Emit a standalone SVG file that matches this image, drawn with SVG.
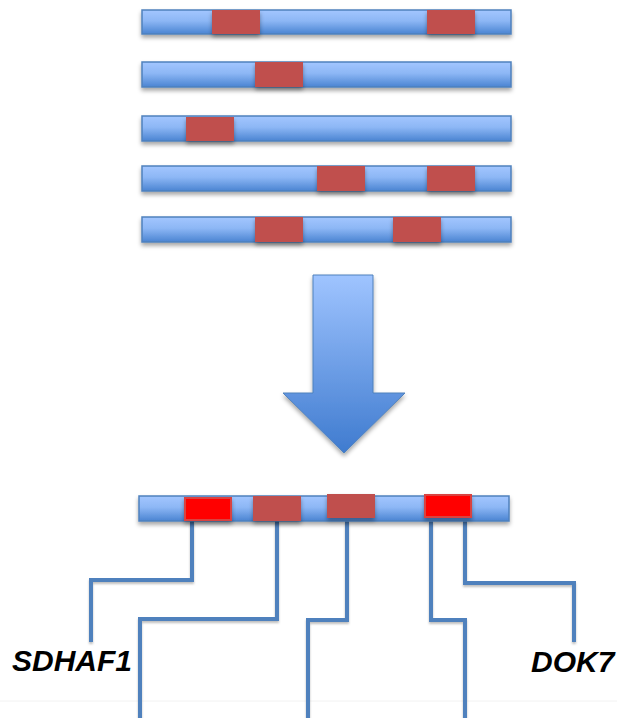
<svg xmlns="http://www.w3.org/2000/svg" width="617" height="718" viewBox="0 0 617 718">
  <defs>
    <linearGradient id="barFill" x1="0" y1="0" x2="0" y2="1">
      <stop offset="0" stop-color="#a3c6ff"/>
      <stop offset="0.45" stop-color="#8db7f5"/>
      <stop offset="1" stop-color="#4a84d2"/>
    </linearGradient>
    <linearGradient id="arrowFill" x1="0" y1="0" x2="0" y2="1">
      <stop offset="0" stop-color="#9fc4ff"/>
      <stop offset="1" stop-color="#3f7bcf"/>
    </linearGradient>
    <filter id="shadow" x="-10%" y="-40%" width="120%" height="200%">
      <feDropShadow dx="0" dy="3" stdDeviation="2" flood-color="#000" flood-opacity="0.35"/>
    </filter>
    <filter id="lineShadow" x="-50%" y="-10%" width="200%" height="130%">
      <feDropShadow dx="0" dy="2" stdDeviation="1.2" flood-color="#000" flood-opacity="0.25"/>
    </filter>
  </defs>
  <style>
    .bar { fill: url(#barFill); stroke: #4f81bd; stroke-width: 1.5; filter: url(#shadow); }
    .seg { fill: #c0504d; filter: url(#shadow); }
    .hit { fill: #ff0000; stroke: #d9423f; stroke-width: 2; filter: url(#shadow); }
    .lead { fill: none; stroke: #4f81bd; stroke-width: 4; stroke-linejoin: miter; filter: url(#lineShadow); }
    .gene { font-family: "Liberation Sans", Arial, sans-serif; font-weight: bold; font-style: italic; font-size: 30px; fill: #000; }
  </style>

  <rect width="617" height="718" fill="#ffffff"/>
  <line x1="0" y1="701" x2="617" y2="701" stroke="#f2f2f2" stroke-width="1"/>

  <!-- input sequences -->
  <g id="seq1">
    <rect class="bar" x="142" y="10" width="369" height="24"/>
    <rect class="seg" x="212" y="10" width="48" height="24"/>
    <rect class="seg" x="427" y="10" width="48" height="24"/>
  </g>
  <g id="seq2">
    <rect class="bar" x="142" y="62" width="369" height="25"/>
    <rect class="seg" x="255" y="62" width="48" height="25"/>
  </g>
  <g id="seq3">
    <rect class="bar" x="142" y="116" width="369" height="25"/>
    <rect class="seg" x="186" y="117" width="48" height="24"/>
  </g>
  <g id="seq4">
    <rect class="bar" x="142" y="166" width="369" height="25"/>
    <rect class="seg" x="317" y="166" width="48" height="25"/>
    <rect class="seg" x="427" y="166" width="48" height="25"/>
  </g>
  <g id="seq5">
    <rect class="bar" x="142" y="217" width="369" height="25"/>
    <rect class="seg" x="255" y="217" width="48" height="25"/>
    <rect class="seg" x="393" y="217" width="48" height="25"/>
  </g>

  <!-- merge arrow -->
  <g id="merge-arrow">
    <path d="M313,275 H373 V393 H405 L344,453 L283,393 H313 Z" fill="url(#arrowFill)" stroke="#4f81bd" stroke-width="1" filter="url(#shadow)"/>
  </g>

  <!-- connectors from consensus to gene labels -->
  <g id="connectors">
    <polyline class="lead" points="192,521 192,580 91,580 91,642"/>
    <polyline class="lead" points="277,521 277,619 140,619 140,718"/>
    <polyline class="lead" points="347,521 347,620 308,620 308,718"/>
    <polyline class="lead" points="431,521 431,620 465,620 465,718"/>
    <polyline class="lead" points="465,521 465,583 574,583 574,642"/>
  </g>

  <!-- consensus sequence -->
  <g id="consensus">
    <rect class="bar" x="139" y="496" width="370" height="25"/>
    <rect class="hit" x="185" y="498" width="46" height="22"/>
    <rect class="seg" x="253" y="496" width="48" height="25"/>
    <rect class="seg" x="327" y="494" width="48" height="24"/>
    <rect class="hit" x="425" y="495" width="46" height="22"/>
  </g>

  <g id="label-sdhaf1">
    <text class="gene" x="12" y="671">SDHAF1</text>
  </g>
  <g id="label-dok7">
    <text class="gene" x="531" y="672">DOK7</text>
  </g>
</svg>
